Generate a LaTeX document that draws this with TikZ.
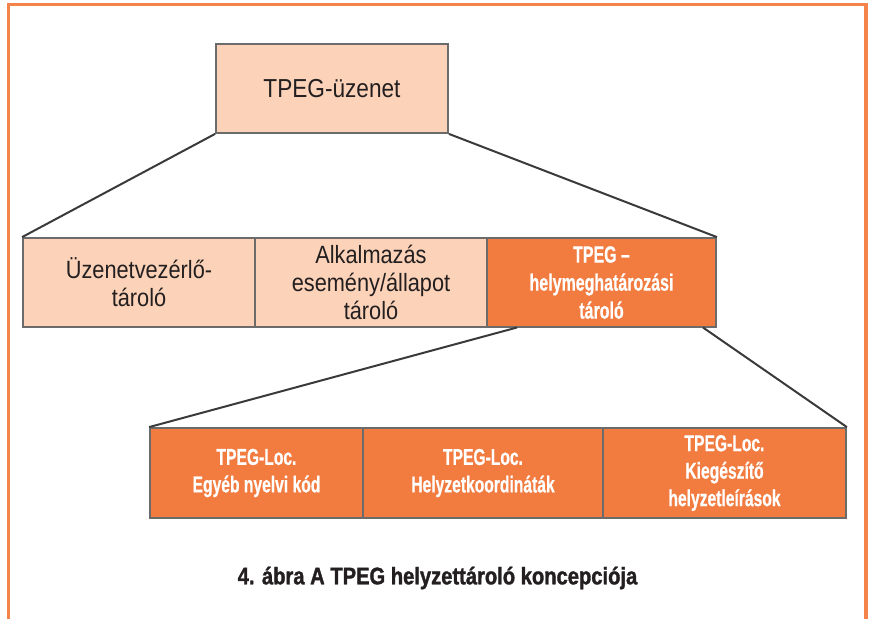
\documentclass[tikz,border=0pt]{standalone}
\usepackage{fontspec}
\usepackage{xcolor}
\setmainfont{Liberation Sans}
\newfontfamily\narrowsans[FakeStretch=0.87]{Liberation Sans}
\newfontfamily\condsans[FakeStretch=0.68,FakeBold=0.6]{Liberation Sans}
\newfontfamily\capsans[FakeStretch=0.84,FakeBold=1.4]{Liberation Sans}
\definecolor{framecol}{HTML}{F5844A}
\definecolor{peach}{HTML}{FCD3B8}
\definecolor{tangerine}{HTML}{F27B3F}
\definecolor{inkgray}{HTML}{3A3A3A}
\definecolor{textcol}{HTML}{231F20}

\begin{document}
\begin{tikzpicture}[x=1pt,y=-1pt,
  lightbox/.style={draw=inkgray!75,line width=1.8pt,fill=peach,text=textcol,align=center,
    inner sep=0pt,font=\narrowsans\fontsize{25}{28}\selectfont},
  darkbox/.style={draw=inkgray!75,line width=1.8pt,fill=tangerine,text=white,align=center,
    inner sep=0pt,font=\condsans\bfseries\fontsize{23}{27.5}\selectfont},
  zoomline/.style={inkgray,line width=2pt}]
\useasboundingbox (0,0) rectangle (871,619);
\draw[framecol,line width=3.2pt] (8.5,619) -- (8.5,4.5) -- (866,4.5) -- (866,619);

% top level
\node[lightbox,minimum width=232pt,minimum height=89pt,font=\narrowsans\fontsize{26}{28}\selectfont] (msg) at (332,88.5) {TPEG-üzenet};

% containers
\node[lightbox,minimum width=232pt,minimum height=89pt] (ctrl) at (139,282.5) {Üzenetvezérlő-\\tároló};
\node[lightbox,minimum width=232pt,minimum height=89pt] (app) at (371,282.5) {Alkalmazás\\esemény/állapot\\tároló};
\node[darkbox,minimum width=229pt,minimum height=89pt,font=\condsans\bfseries\fontsize{23.5}{28}\selectfont] (loc) at (601.5,282.5) {TPEG –\\helymeghatározási\\tároló};

% location parts
\node[darkbox,minimum width=213pt,minimum height=90pt] (locA) at (256.5,473) {TPEG-Loc.\\Egyéb nyelvi kód};
\node[darkbox,minimum width=240pt,minimum height=90pt] (locB) at (483,473) {TPEG-Loc.\\Helyzetkoordináták};
\node[darkbox,minimum width=243pt,minimum height=90pt] (locC) at (724.5,473) {TPEG-Loc.\\Kiegészítő\\helyzetleírások};

\draw[zoomline] (msg.south west) -- (ctrl.north west);
\draw[zoomline] (msg.south east) -- (loc.north east);
\coordinate (locL) at (517,327.5);
\coordinate (locR) at (703,327.5);
\draw[zoomline] (locL) -- (locA.north west);
\draw[zoomline] (locR) -- (locC.north east);

\node[text=textcol,font=\capsans\bfseries\fontsize{24}{26}\selectfont] (caption) at (437.5,578) {4. ábra A TPEG helyzettároló koncepciója};
\end{tikzpicture}
\end{document}
